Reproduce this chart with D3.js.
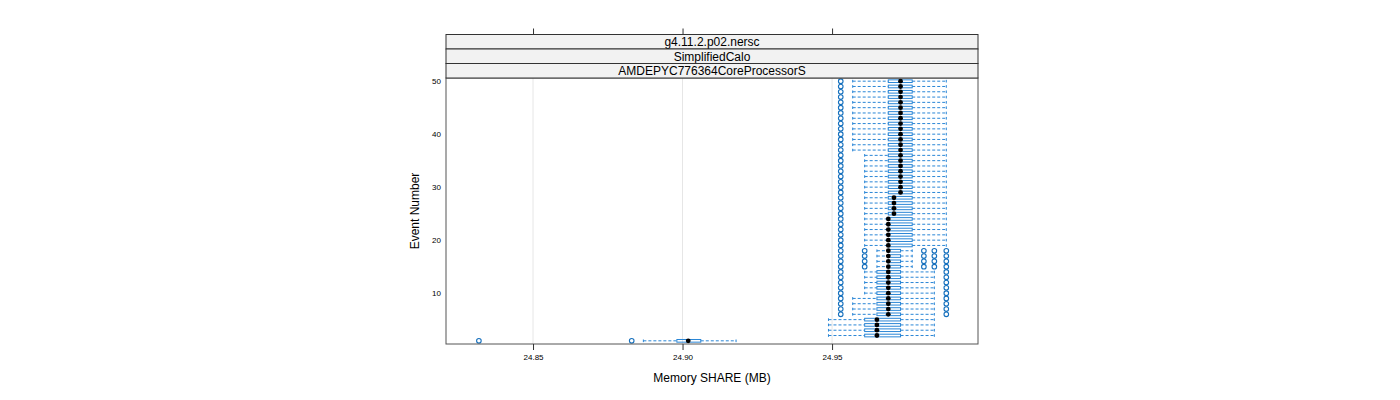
<!DOCTYPE html>
<html>
<head>
<meta charset="utf-8">
<script src="https://cdn.jsdelivr.net/npm/d3@7"></script>
<style>
  body { margin: 0; background: #fff; }
  text { font-family: "Liberation Sans", Arial, sans-serif; }
</style>
</head>
<body>
<div id="chart"></div>
<script>
// one box per event (MB)
let events = [1,2,3,4,5,6,7,8,9,10,
  11,12,13,14,15,16,17,18,19,20,
  21,22,23,24,25,26,27,28,29,30,
  31,32,33,34,35,36,37,38,39,40,
  41,42,43,44,45,46,47,48,49,50];

let lo = [24.8869,24.9488,24.9488,24.9488,24.9488,24.9569,24.9569,24.9569,24.9569,24.9609,
  24.9609,24.9609,24.9609,24.9609,24.9650,24.9650,24.9650,24.9650,24.9609,24.9609,
  24.9609,24.9609,24.9609,24.9609,24.9609,24.9609,24.9609,24.9609,24.9609,24.9609,
  24.9609,24.9609,24.9609,24.9609,24.9609,24.9609,24.9569,24.9569,24.9569,24.9569,
  24.9569,24.9569,24.9569,24.9569,24.9569,24.9569,24.9569,24.9569,24.9569,24.9569];

let q1 = [24.8981,24.9609,24.9609,24.9609,24.9609,24.9650,24.9650,24.9650,24.9650,24.9650,
  24.9650,24.9650,24.9650,24.9650,24.9688,24.9688,24.9688,24.9688,24.9688,24.9688,
  24.9688,24.9688,24.9688,24.9688,24.9688,24.9688,24.9688,24.9688,24.9688,24.9688,
  24.9688,24.9688,24.9688,24.9688,24.9688,24.9688,24.9688,24.9688,24.9688,24.9688,
  24.9688,24.9688,24.9688,24.9688,24.9688,24.9688,24.9688,24.9688,24.9688,24.9688];

let med = [24.9019,24.9650,24.9650,24.9650,24.9650,24.9688,24.9688,24.9688,24.9688,24.9688,
  24.9688,24.9688,24.9688,24.9688,24.9688,24.9688,24.9688,24.9688,24.9688,24.9688,
  24.9688,24.9688,24.9688,24.9688,24.9707,24.9707,24.9707,24.9707,24.9729,24.9729,
  24.9729,24.9729,24.9729,24.9729,24.9729,24.9729,24.9729,24.9729,24.9729,24.9729,
  24.9729,24.9729,24.9729,24.9729,24.9729,24.9729,24.9729,24.9729,24.9729,24.9729];

let q3 = [24.9061,24.9729,24.9729,24.9729,24.9729,24.9729,24.9729,24.9729,24.9729,24.9729,
  24.9729,24.9729,24.9729,24.9729,24.9729,24.9729,24.9729,24.9729,24.9768,24.9768,
  24.9768,24.9768,24.9768,24.9768,24.9768,24.9768,24.9768,24.9768,24.9768,24.9768,
  24.9768,24.9768,24.9768,24.9768,24.9768,24.9768,24.9768,24.9768,24.9768,24.9768,
  24.9768,24.9768,24.9768,24.9768,24.9768,24.9768,24.9768,24.9768,24.9768,24.9768];

let hi = [24.9179,24.9842,24.9842,24.9842,24.9842,24.9842,24.9842,24.9842,24.9842,24.9842,
  24.9842,24.9842,24.9842,24.9842,24.9768,24.9768,24.9768,24.9768,24.9882,24.9882,
  24.9882,24.9882,24.9882,24.9882,24.9882,24.9882,24.9882,24.9882,24.9882,24.9882,
  24.9882,24.9882,24.9882,24.9882,24.9882,24.9882,24.9882,24.9882,24.9882,24.9882,
  24.9882,24.9882,24.9882,24.9882,24.9882,24.9882,24.9882,24.9882,24.9882,24.9882];

let outliers = [[24.8319,24.8830],[],[],[],[],
  [24.9529,24.9882],[24.9529,24.9882],[24.9529,24.9882],[24.9529,24.9882],[24.9529,24.9882],
  [24.9529,24.9882],[24.9529,24.9882],[24.9529,24.9882],[24.9529,24.9882],
  [24.9529,24.9609,24.9807,24.9842,24.9882],[24.9529,24.9609,24.9807,24.9842,24.9882],
  [24.9529,24.9609,24.9807,24.9842,24.9882],[24.9529,24.9609,24.9807,24.9842,24.9882],
  [24.9529],[24.9529],[24.9529],[24.9529],[24.9529],[24.9529],[24.9529],[24.9529],
  [24.9529],[24.9529],[24.9529],[24.9529],[24.9529],[24.9529],[24.9529],[24.9529],
  [24.9529],[24.9529],[24.9529],[24.9529],[24.9529],[24.9529],[24.9529],[24.9529],
  [24.9529],[24.9529],[24.9529],[24.9529],[24.9529],[24.9529],[24.9529],[24.9529]];

let xTicks = [24.85, 24.90, 24.95];
let xTickLabels = ["24.85", "24.90", "24.95"];
let yTicks = [10, 20, 30, 40, 50];
let strips = ["g4.11.2.p02.nersc", "SimplifiedCalo", "AMDEPYC776364CoreProcessorS"];

let W = 1400, H = 400;
let pLeft = 446, pRight = 978, pTop = 78, pBottom = 344;
let stripH = 14.5;
let blue = "#2a86d6";

let svg = d3.select("#chart").append("svg")
  .attr("width", W).attr("height", H);

let x = d3.scaleLinear().domain([24.8209, 24.9988]).range([pLeft, pRight]);
let y = d3.scaleLinear().domain([0.4, 50.6]).range([pBottom, pTop]);
let bh = (y(0) - y(0.5)) / 2; // half box height

// reference lines
svg.selectAll("line.grid").data(xTicks).enter().append("line")
  .attr("x1", d => x(d)).attr("x2", d => x(d))
  .attr("y1", pTop).attr("y2", pBottom)
  .attr("stroke", "#e6e6e6").attr("stroke-width", 1);

let rows = events.map((e, i) => ({e: e, lo: lo[i], q1: q1[i], med: med[i], q3: q3[i], hi: hi[i], out: outliers[i]}));

let g = svg.append("g");

// whiskers
g.selectAll("line.wl").data(rows).enter().append("line")
  .attr("x1", d => x(d.lo)).attr("x2", d => x(d.q1))
  .attr("y1", d => y(d.e)).attr("y2", d => y(d.e))
  .attr("stroke", blue).attr("stroke-dasharray", "3,2");
g.selectAll("line.wr").data(rows).enter().append("line")
  .attr("x1", d => x(d.q3)).attr("x2", d => x(d.hi))
  .attr("y1", d => y(d.e)).attr("y2", d => y(d.e))
  .attr("stroke", blue).attr("stroke-dasharray", "3,2");
// whisker ends
g.selectAll("line.el").data(rows).enter().append("line")
  .attr("x1", d => x(d.lo)).attr("x2", d => x(d.lo))
  .attr("y1", d => y(d.e) - bh).attr("y2", d => y(d.e) + bh)
  .attr("stroke", blue);
g.selectAll("line.er").data(rows).enter().append("line")
  .attr("x1", d => x(d.hi)).attr("x2", d => x(d.hi))
  .attr("y1", d => y(d.e) - bh).attr("y2", d => y(d.e) + bh)
  .attr("stroke", blue);

// boxes
g.selectAll("rect.box").data(rows).enter().append("rect")
  .attr("x", d => x(d.q1)).attr("width", d => x(d.q3) - x(d.q1))
  .attr("y", d => y(d.e) - bh).attr("height", 2 * bh)
  .attr("fill", "none").attr("stroke", blue);

// medians
g.selectAll("circle.med").data(rows).enter().append("circle")
  .attr("cx", d => x(d.med)).attr("cy", d => y(d.e)).attr("r", 2.4)
  .attr("fill", "#000");

// outliers
let pts = [];
rows.forEach(d => d.out.forEach(v => pts.push({e: d.e, v: v})));
g.selectAll("circle.out").data(pts).enter().append("circle")
  .attr("cx", d => x(d.v)).attr("cy", d => y(d.e)).attr("r", 2.3)
  .attr("fill", "none").attr("stroke", "#1670bd").attr("stroke-width", 1.1);

// panel border
svg.append("rect")
  .attr("x", pLeft).attr("y", pTop).attr("width", pRight - pLeft).attr("height", pBottom - pTop)
  .attr("fill", "none").attr("stroke", "#555");

// strips
strips.forEach((s, i) => {
  let sy = pTop - stripH * (strips.length - i);
  svg.append("rect")
    .attr("x", pLeft).attr("y", sy).attr("width", pRight - pLeft).attr("height", stripH)
    .attr("fill", "#f2f2f2").attr("stroke", "#333");
  svg.append("text")
    .attr("x", (pLeft + pRight) / 2).attr("y", sy + stripH / 2 + 4.3)
    .attr("text-anchor", "middle").attr("font-size", 12).attr("fill", "#000")
    .text(s);
});

// bottom axis
let xAxis = svg.append("g").attr("transform", "translate(0," + pBottom + ")")
  .call(d3.axisBottom(x).tickValues(xTicks).tickSize(6).tickPadding(4)
    .tickFormat((d, i) => xTickLabels[i]));
xAxis.select(".domain").remove();
xAxis.selectAll("line").attr("stroke", "#333");
xAxis.selectAll("text").attr("font-size", 8).attr("fill", "#000")
  .attr("font-family", "Liberation Sans, Arial, sans-serif");

// top ticks
let topY = pTop - stripH * strips.length;
let xTop = svg.append("g").attr("transform", "translate(0," + topY + ")")
  .call(d3.axisTop(x).tickValues(xTicks).tickSize(6).tickFormat(""));
xTop.select(".domain").remove();
xTop.selectAll("line").attr("stroke", "#333");

// left axis labels (no tick marks)
let yAxis = svg.append("g").attr("transform", "translate(" + pLeft + ",0)")
  .call(d3.axisLeft(y).tickValues(yTicks).tickSize(0).tickPadding(5));
yAxis.select(".domain").remove();
yAxis.selectAll("text").attr("font-size", 8).attr("fill", "#000")
  .attr("font-family", "Liberation Sans, Arial, sans-serif");

// axis titles
svg.append("text")
  .attr("x", (pLeft + pRight) / 2).attr("y", 382)
  .attr("text-anchor", "middle").attr("font-size", 12)
  .text("Memory SHARE (MB)");
svg.append("text")
  .attr("transform", "translate(419," + ((pTop + pBottom) / 2) + ") rotate(-90)")
  .attr("text-anchor", "middle").attr("font-size", 12)
  .text("Event Number");
</script>
</body>
</html>
